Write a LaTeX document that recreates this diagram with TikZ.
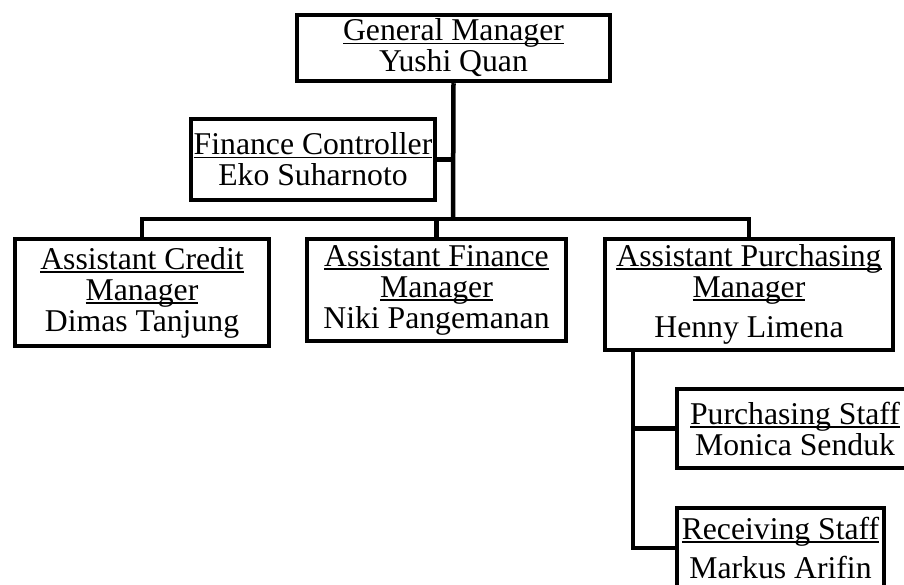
\documentclass[tikz,border=0pt]{standalone}
\usepackage{fontspec}
\setmainfont{Liberation Serif}
\usepackage{tikz}
\newcommand{\ttl}[1]{\setbox0\hbox{#1}\rlap{\rule[-3.5pt]{\wd0}{1.6pt}}\box0}

\begin{document}
\begin{tikzpicture}[x=1pt, y=-1pt, line width=4.5pt,
		box/.style={draw, rectangle, inner sep=0pt, align=center,
			font=\fontsize{31.7}{31}\selectfont}]
				\path[use as bounding box, clip] (0,0) rectangle (904,585);
				% boxes
				\node[box, minimum width=313, minimum height=66] (gm) at (453.5,48) {\ttl{General Manager}\\Yushi Quan};
				\node[box, minimum width=244, minimum height=81] (fc) at (313,159.5) {\ttl{Finance Controller}\\Eko Suharnoto};
				\node[box, minimum width=254, minimum height=107] (acm) at (142,292.5) {\ttl{Assistant Credit}\\\ttl{Manager}\\Dimas Tanjung};
				\node[box, minimum width=259, minimum height=102] (afm) at (436.5,290) {\ttl{Assistant Finance}\\\ttl{Manager}\\Niki Pangemanan};
				\node[box, minimum width=288, minimum height=111] (apm) at (749,294.5) {\ttl{Assistant Purchasing}\\\ttl{Manager}\\[9pt]Henny Limena};
				\node[box, minimum width=236, minimum height=79] (ps) at (795,428.5) {\ttl{Purchasing Staff}\\Monica Senduk};
				\node[box, minimum width=207, minimum height=80] (rs) at (780.5,548) {\ttl{Receiving Staff}\\[8pt]Markus Arifin};
				% lines
				\coordinate (hub) at (453,219);
				\coordinate (spine) at (633,350);
				\draw (gm.south) -- (hub);
				\draw (fc.east) -- (fc.east -| hub);
				\draw (acm.north) |- (hub) -| (apm.north);
				\draw (afm.north) -- (afm.north |- hub);
				\draw (spine) |- (rs.west);
				\draw (ps.west) -- (ps.west -| spine);
			\end{tikzpicture}
\end{document}
